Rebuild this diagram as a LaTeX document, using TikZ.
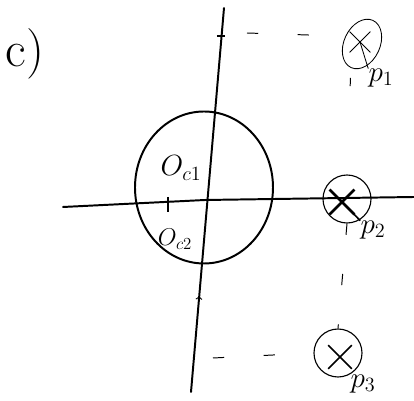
\documentclass[tikz,border=0pt]{standalone}
\usepackage{amsmath,amssymb}
\usetikzlibrary{decorations.markings,calc,shapes.geometric,shapes.misc}
\tikzset{
  axisline/.style={
    line width=1.4pt,
    line cap=round
  },
  contour/.style={
    shape = ellipse,
    draw,
    line width=1.4pt,
    inner sep = 0,
    minimum width=3.45cm,
    minimum height=3.8cm
  },
  polering/.style={
    shape = circle,
    draw,
    line width=0.8pt,
    inner sep = 0,
    minimum size=1.2cm
  },
  polecross/.style={
    shape = cross out,
    draw,
    inner sep = 0,
    minimum size=0.55cm
  },
  guide/.style={
    line width=0.7pt,
    dash pattern=on 8pt off 28pt
  },
  polelabel/.style={
    inner sep = 0,
    font=\fontsize{22}{22}\selectfont
  },
  originlabel/.style={
    inner sep = 0,
    font=\fontsize{20}{20}\selectfont
  }
}

\begin{document}
\begin{tikzpicture}
            \useasboundingbox (-5.125,5.0) rectangle (5.225,-5.025);
            % axes
            \coordinate (ybot) at (-0.35,-4.8);
            \coordinate (ytop) at (0.475,4.8);
            \coordinate (xl) at (-3.55,-0.175);
            \coordinate (xr) at (5.225,0.075);
            \draw[axisline] (xl) -- (0,0) -- (xr);
            \draw[axisline,postaction={decorate,decoration={markings,
                mark=at position 0.25 with {\arrow[line width=0.8pt]{>}}}}] (ybot) -- (ytop);
            \draw[line width=0.8pt] (-0.925,0.075) -- (-0.925,-0.3);
            \draw[line width=0.8pt] (0.3,4.1) -- (0.5,4.1);
            % contour round the origin
            \node[contour] (c) at (-0.025,0.3125) {};
            \node[originlabel] (oc1) at (-0.6,0.8) {$O_{c1}$};
            \node[originlabel,font=\fontsize{17}{17}\selectfont] (oc2) at (-0.75,-0.98) {$O_{c2}$};
            % poles
            \node[polering,shape=ellipse,minimum width=0.9cm,minimum height=1.3cm,
                  rotate=-25,line width=0.6pt] (p1) at (3.925,3.9) {};
            \node[polering] (p2) at (3.55,0.025) {};
            \node[polering] (p3) at (3.325,-3.825) {};
            \node[polecross,line width=0.6pt,minimum size=0.5cm] (x1) at (3.875,3.95) {};
            \node[polecross,line width=2pt] (x2) at (3.425,-0.05) {};
            \node[polecross,line width=1.2pt] (x3) at (3.375,-3.925) {};
            \node[polelabel] (lp1) at (4.4,3.05) {$p_1$};
            \node[polelabel] (lp2) at (4.2,-0.75) {$p_2$};
            \node[polelabel] (lp3) at (3.95,-4.6) {$p_3$};
            \draw[line width=0.6pt] (x1.center) -- (lp1.north west);
            \draw[line width=1.2pt] (x2.center) -- (lp2.north west);
            % guides
            \coordinate (g1) at (1.05,4.175);
            \coordinate (g3) at (0.2,-3.95);
            \draw[guide] (g1) -- (p1.west);
            \draw[guide] (g3) -- (p3.west);
            \draw[guide,dash pattern=on 0pt off 7pt on 6pt off 90pt] (p1.south) -- (p2.north);
            \draw[guide] (p2.south) -- (p3.north);
            \node[font=\fontsize{36}{36}\selectfont] (tag) at (-4.5,3.65) {c)};
        \end{tikzpicture}
\end{document}
